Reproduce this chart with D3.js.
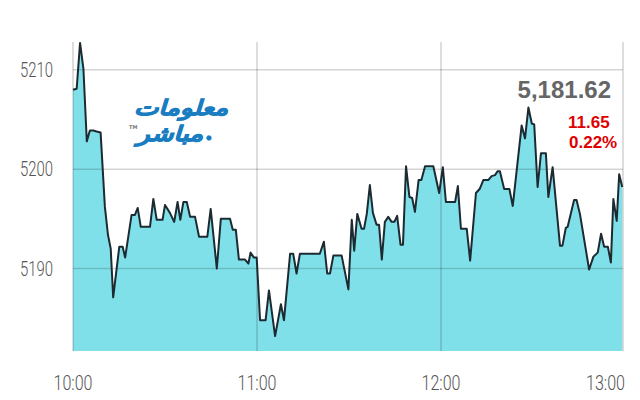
<!doctype html>
<html lang="ar">
  <head>
    <meta charset="utf-8">
    <title>Index intraday</title>
    <style>
      body {
        margin: 0;
        background: #fff;
      }
      svg {
        display: block;
      }
    </style>
  </head>
  <body>
    <div id="chart"></div>

    <script src="https://cdn.jsdelivr.net/npm/d3@7"></script>
    <script>
      // minutes after 10:00 and index level
      const minutesAfterOpen = [
        0, 1.2, 2.3, 3.4, 4.5, 5.5, 6.6, 7.7, 9.0, 10.4,
        11.4, 12.3, 13.1, 15.1, 16.2, 17.0, 19.1, 20.2, 21.1, 22.1,
        25.1, 26.2, 27.3, 29.2, 30.0, 31.6, 33.0, 34.1, 35.0, 36.0,
        37.1, 38.2, 39.8, 41.1, 43.8, 44.9, 46.9, 48.2, 51.2, 52.1,
        53.1, 54.1, 56.1, 57.2, 57.9, 59.0, 59.9, 61.0, 62.8, 63.9,
        65.9, 67.8, 68.8, 70.8, 71.8, 72.9, 74.0, 80.5, 81.8, 82.9,
        83.8, 84.9, 87.6, 89.8, 90.9, 91.7, 92.7, 94.1, 94.9, 95.8,
        96.8, 97.8, 99.0, 99.8, 100.7, 101.7, 102.8, 103.9, 104.8, 105.7,
        106.8, 107.6, 108.6, 109.7, 110.6, 111.5, 112.7, 113.6, 114.8, 117.5,
        119.4, 120.6, 121.6, 124.6, 125.5, 126.5, 128.4, 129.5, 131.4, 132.6,
        133.8, 135.4, 136.5, 137.6, 138.5, 139.2, 140.6, 142.3, 143.4, 146.3,
        147.4, 148.5, 149.6, 150.4, 151.5, 152.6, 154.2, 155.0, 156.4, 158.8,
        159.6, 160.7, 161.3, 163.4, 164.2, 165.3, 168.3, 169.7, 171.1, 172.2,
        173.2, 174.4, 175.4, 176.2, 177.3, 178.1, 179.1
      ]
      const indexValues = [
        5208.0, 5208.1, 5212.7, 5210.1, 5202.8, 5203.9, 5203.9, 5203.8, 5203.7, 5196.2,
        5193.4, 5192.0, 5187.1, 5192.2, 5192.2, 5191.1, 5195.4, 5195.4, 5196.1, 5194.2,
        5194.2, 5197.0, 5194.9, 5194.9, 5196.4, 5195.6, 5194.7, 5196.7, 5194.9, 5196.7,
        5196.7, 5195.2, 5195.2, 5193.2, 5193.2, 5196.0, 5190.0, 5195.0, 5195.0, 5193.9,
        5193.9, 5190.9, 5190.9, 5190.5, 5191.6, 5191.1, 5191.1, 5184.8, 5184.8, 5187.8,
        5183.2, 5186.4, 5184.8, 5191.5, 5191.5, 5189.5, 5191.5, 5191.5, 5192.7, 5189.5,
        5189.5, 5191.3, 5191.3, 5187.9, 5194.9, 5191.8, 5195.5, 5194.0, 5194.0, 5195.5,
        5198.4, 5195.6, 5194.4, 5194.4, 5190.9, 5194.7, 5195.2, 5194.7, 5194.7, 5195.3,
        5192.4, 5192.4, 5200.3, 5197.2, 5197.1, 5195.7, 5198.9, 5198.9, 5200.3, 5200.3,
        5197.6, 5200.2, 5196.7, 5196.7, 5198.3, 5194.0, 5194.0, 5190.8, 5197.6, 5198.0,
        5198.9, 5198.9, 5199.3, 5199.4, 5199.8, 5199.8, 5198.0, 5198.0, 5196.3, 5204.4,
        5203.1, 5206.2, 5204.6, 5204.5, 5198.2, 5201.6, 5201.6, 5197.2, 5200.2, 5192.3,
        5192.3, 5194.1, 5194.2, 5196.9, 5196.9, 5195.5, 5189.9, 5191.2, 5191.6, 5193.5,
        5192.2, 5192.2, 5190.6, 5197.0, 5194.8, 5199.5, 5198.2
      ]
      const yTicks = [5190, 5200, 5210]
      const xTickLabels = ['10:00', '11:00', '12:00', '13:00']
      const lastValue = '5,181.62'
      const change = '11.65'
      const changePct = '0.22%'

      const width = 640
      const height = 400
      const plotLeft = 73
      const plotRight = 623
      const plotTop = 42
      const plotBottom = 351

      const parseTime = d3.timeParse('%H:%M')
      const open = parseTime('10:00')
      const data = minutesAfterOpen.map((m, i) => ({
        t: new Date(open.getTime() + m * 60000),
        v: indexValues[i]
      }))
      const xTicks = xTickLabels.map(parseTime)

      const x = d3.scaleTime()
        .domain([open, parseTime('13:00')])
        .range([plotLeft, 625])
      const y = d3.scaleLinear()
        .domain([5181.7, 5212.8])
        .range([plotBottom, plotTop])

      const svg = d3.select('#chart')
        .append('svg')
        .attr('width', width)
        .attr('height', height)

      // filled area
      svg.append('path')
        .datum(data)
        .attr('fill', '#80e0ea')
        .attr('d', d3.area().x(d => x(d.t)).y0(plotBottom).y1(d => y(d.v)))

      // grid
      const grid = svg.append('g')
        .attr('stroke', '#000')
        .attr('stroke-opacity', 0.17)
        .attr('stroke-width', 1.6)
      grid.selectAll('.h')
        .data(yTicks)
        .enter()
        .append('line')
          .attr('x1', plotLeft)
          .attr('x2', plotRight)
          .attr('y1', d => y(d))
          .attr('y2', d => y(d))
      grid.selectAll('.v')
        .data(xTicks.slice(0, 3).map(x).concat([plotRight]))
        .enter()
        .append('line')
          .attr('x1', d => d)
          .attr('x2', d => d)
          .attr('y1', plotTop)
          .attr('y2', plotBottom)

      // price line
      svg.append('path')
        .datum(data)
        .attr('fill', 'none')
        .attr('stroke', '#1c2a31')
        .attr('stroke-width', 2)
        .attr('stroke-linejoin', 'round')
        .attr('d', d3.line().x(d => x(d.t)).y(d => y(d.v)))

      // axis labels
      svg.append('g').selectAll('text')
        .data(yTicks)
        .enter()
        .append('text')
          .attr('x', 53)
          .attr('y', d => y(d) + 7)
          .attr('text-anchor', 'end')
          .attr('textLength', 33)
          .attr('lengthAdjust', 'spacingAndGlyphs')
          .attr('font-family', 'Roboto')
          .attr('font-weight', 300)
          .attr('font-size', 20)
          .attr('fill', '#555')
          .text(d => d)

      svg.append('g').selectAll('text')
        .data(xTicks)
        .enter()
        .append('text')
          .attr('x', (d, i) => i === xTicks.length - 1 ? 625 : x(d))
          .attr('y', 390)
          .attr('text-anchor', (d, i) => i === xTicks.length - 1 ? 'end' : 'middle')
          .attr('textLength', 39)
          .attr('lengthAdjust', 'spacingAndGlyphs')
          .attr('font-family', 'Roboto')
          .attr('font-weight', 300)
          .attr('font-size', 21)
          .attr('fill', '#555')
          .text((d, i) => xTickLabels[i])

      // last value and change
      svg.append('text')
        .attr('x', 611)
        .attr('y', 98)
        .attr('text-anchor', 'end')
        .attr('font-family', 'Liberation Sans')
        .attr('font-weight', 'bold')
        .attr('font-size', 24)
        .attr('fill', '#666')
        .text(lastValue)
      svg.append('text')
        .attr('x', 568)
        .attr('y', 127.5)
        .attr('font-family', 'Liberation Sans')
        .attr('font-weight', 'bold')
        .attr('font-size', 17)
        .attr('fill', '#e00000')
        .text(change)
      svg.append('text')
        .attr('x', 569)
        .attr('y', 147.5)
        .attr('font-family', 'Liberation Sans')
        .attr('font-weight', 'bold')
        .attr('font-size', 17)
        .attr('fill', '#e00000')
        .text(changePct)

      // logo
      const logo = svg.append('g')
        .attr('font-family', 'DejaVu Sans')
        .attr('font-weight', 'bold')
        .attr('font-style', 'italic')
        .attr('fill', '#1a7cc1')
        .attr('stroke', '#1a7cc1')
        .attr('stroke-width', 0.8)
      logo.append('text')
        .attr('x', 228)
        .attr('y', 115)
        .attr('text-anchor', 'end')
        .attr('font-size', 21)
        .attr('textLength', 94)
        .attr('lengthAdjust', 'spacingAndGlyphs')
        .text('معلومات')
      logo.append('text')
        .attr('x', 203)
        .attr('y', 141)
        .attr('text-anchor', 'end')
        .attr('font-size', 21)
        .attr('textLength', 66)
        .attr('lengthAdjust', 'spacingAndGlyphs')
        .text('مباشر')
      logo.append('circle')
        .attr('cx', 209)
        .attr('cy', 138)
        .attr('r', 2.3)
      logo.append('text')
        .attr('x', 129)
        .attr('y', 129)
        .attr('font-size', 5)
        .attr('font-style', 'normal')
        .attr('stroke', 'none')
        .attr('fill', '#777')
        .text('TM')
    </script>
  </body>
</html>
